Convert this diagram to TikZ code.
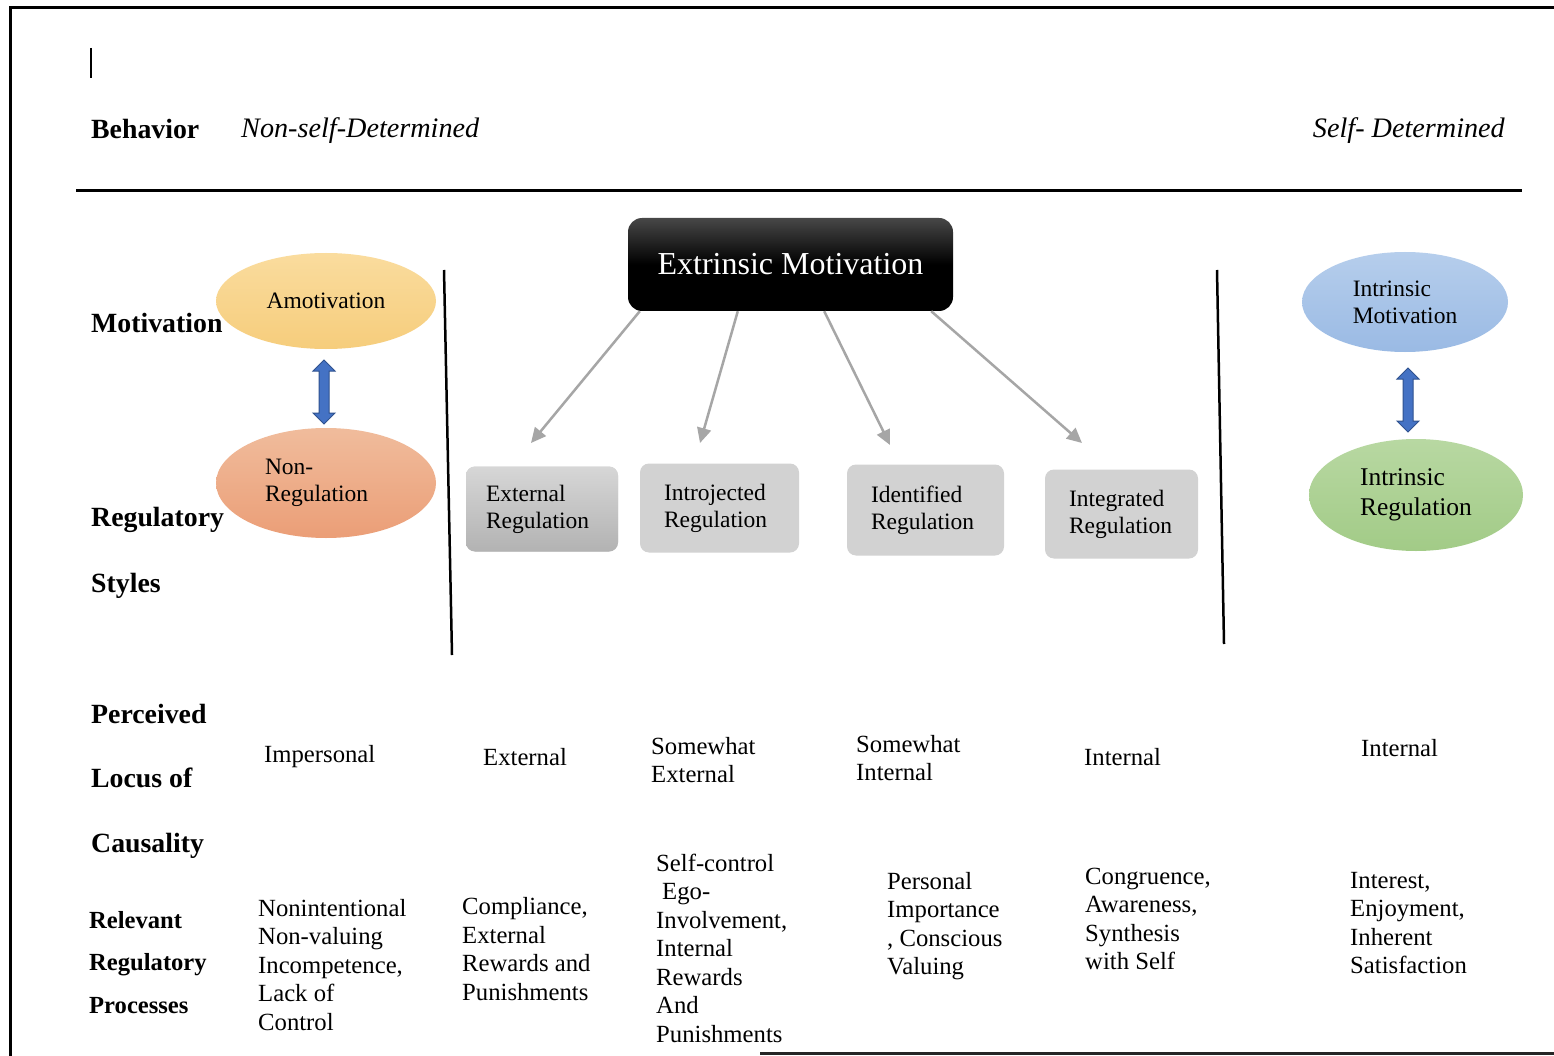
\documentclass[tikz,border=0pt]{standalone}
\usepackage{fontspec}
\setmainfont{Liberation Serif}
\usetikzlibrary{shapes.geometric,shapes.arrows,arrows.meta}
\definecolor{amoT}{HTML}{FADC9E}
\definecolor{amoB}{HTML}{F6CD7C}
\definecolor{nonT}{HTML}{F0BC9C}
\definecolor{nonB}{HTML}{EB9E77}
\definecolor{intT}{HTML}{B6CEEC}
\definecolor{intB}{HTML}{9ABAE4}
\definecolor{grnT}{HTML}{B8D8A2}
\definecolor{grnB}{HTML}{A2CB87}
\definecolor{arrblue}{HTML}{4472C4}
\definecolor{arredge}{HTML}{2F528F}
\definecolor{boxgray}{HTML}{D2D2D2}
\definecolor{linegray}{HTML}{A6A6A6}

\begin{document}
\begin{tikzpicture}[x=1pt,y=-1pt,
   head/.style={anchor=west,inner sep=0,font=\fontsize{27.8}{32}\selectfont\bfseries},
   subhead/.style={anchor=west,inner sep=0,font=\fontsize{24.6}{28}\selectfont\bfseries},
   slant/.style={inner sep=0,font=\fontsize{28.2}{32}\selectfont\itshape},
   txt/.style={anchor=west,inner sep=0,align=left,font=\fontsize{24.7}{28.5}\selectfont},
   oval/.style={ellipse,inner sep=0,align=left,font=\fontsize{23.5}{27}\selectfont},
   regbox/.style={rounded corners=9pt,inner xsep=24pt,inner ysep=0,align=left,
      font=\fontsize{23.5}{27}\selectfont,fill=boxgray},
   fatarrow/.style={double arrow,draw=arredge,fill=arrblue,line width=1pt,rotate=90,
      inner sep=4.5pt,double arrow head extend=6pt,minimum height=64pt},
   grayarr/.style={draw=linegray,line width=2.5pt,-{Triangle[length=15pt,width=14pt]}}]
\useasboundingbox (0,0) rectangle (1554,1056);
\fill[white] (0,0) rectangle (1554,1056);
\draw[line width=3pt] (1554,8) -- (10,8) -- (10,1056);
\draw[line width=3pt,black!85] (760,1053) -- (1554,1053);
\draw[line width=1.5pt] (91,48) -- (91,78);
\draw[line width=3pt] (76,191) -- (1522,191);
\draw[line width=2.5pt] (444,270) -- (452,655);
\draw[line width=2.5pt] (1217,270) -- (1224,644);

\node[head] (beh) at (91,129) {Behavior};
\node[slant,anchor=west] (nsd) at (241,131) {Non-self-Determined};
\node[slant,anchor=east] (sd) at (1505,131) {Self- Determined};

\node[head] (mot) at (91,323) {Motivation};
\node[head] (regst) at (91,520) {Regulatory};
\node[head] (sty) at (91,586) {Styles};
\node[head] (per) at (91,714) {Perceived};
\node[head] (loc) at (91,778) {Locus of};
\node[head] (cau) at (91,846) {Causality};
\node[subhead] (rel) at (89,920) {Relevant};
\node[subhead] (regp) at (89,965) {Regulatory};
\node[subhead] (pro) at (89,1006) {Processes};

\node[oval,top color=amoT,bottom color=amoB,minimum width=220pt,minimum height=96pt]
   (amo) at (326,301) {Amotivation};
\node[oval,top color=nonT,bottom color=nonB,minimum width=220pt,minimum height=110pt,
   text width=122pt] (nonreg) at (326,483) {Non-\\Regulation};
\node[fatarrow] (amoarr) at (324,392) {};
\node[oval,top color=intT,bottom color=intB,minimum width=206pt,minimum height=100pt]
   (intmot) at (1405,302) {Intrinsic\\Motivation};
\node[oval,top color=grnT,bottom color=grnB,minimum width=214pt,minimum height=112pt,
   font=\fontsize{25.5}{30}\selectfont] (intreg) at (1416,495) {Intrinsic\\Regulation};
\node[fatarrow] (intarr) at (1408,400) {};

\node[rounded corners=14pt,top color=black!72,bottom color=black,middle color=black,
   minimum width=325pt,minimum height=93pt,text=white,font=\fontsize{32}{36}\selectfont]
   (em) at (790.5,264.5) {Extrinsic Motivation};

\node[regbox,inner xsep=20pt,top color=boxgray!90,bottom color=black!30,text width=112pt,
   minimum height=85pt] (ext) at (542,509) {External\\Regulation};
\node[regbox,text width=111pt,minimum height=89pt] (intro) at (719.5,508) {Introjected\\Regulation};
\node[regbox,text width=109pt,minimum height=91pt] (ident) at (925.5,510) {Identified\\Regulation};
\node[regbox,text width=105pt,minimum height=89pt] (integ) at (1121.5,514) {Integrated\\Regulation};

\coordinate (t1) at (531,443);
\coordinate (t2) at (700,443);
\coordinate (t3) at (890,445);
\coordinate (t4) at (1082,443);
\draw[grayarr] ([xshift=12pt]em.south west) -- (t1);
\draw[grayarr] ([xshift=110pt]em.south west) -- (t2);
\draw[grayarr] ([xshift=-129pt]em.south east) -- (t3);
\draw[grayarr] ([xshift=-22pt]em.south east) -- (t4);

\node[txt] (l1) at (264,757) {Impersonal};
\node[txt] (l2) at (483,757) {External};
\node[txt] (l3) at (651,760) {Somewhat\\External};
\node[txt] (l4) at (856,758) {Somewhat\\Internal};
\node[txt] (l5) at (1084,757) {Internal};
\node[txt] (l6) at (1361,748) {Internal};

\node[txt] (p1) at (258,965) {Nonintentional\\Non-valuing\\Incompetence,\\Lack of\\Control};
\node[txt] (p2) at (462,949) {Compliance,\\External\\Rewards and\\Punishments};
\node[txt] (p3) at (656,948) {Self-control\\\hspace*{6pt}Ego-\\Involvement,\\Internal\\Rewards\\And\\Punishments};
\node[txt] (p4) at (887,926) {Personal\\Importance\\, Conscious\\Valuing};
\node[txt] (p5) at (1085,919) {Congruence,\\Awareness,\\Synthesis\\with Self};
\node[txt] (p6) at (1350,923) {Interest,\\Enjoyment,\\Inherent\\Satisfaction};
\end{tikzpicture}
\end{document}
